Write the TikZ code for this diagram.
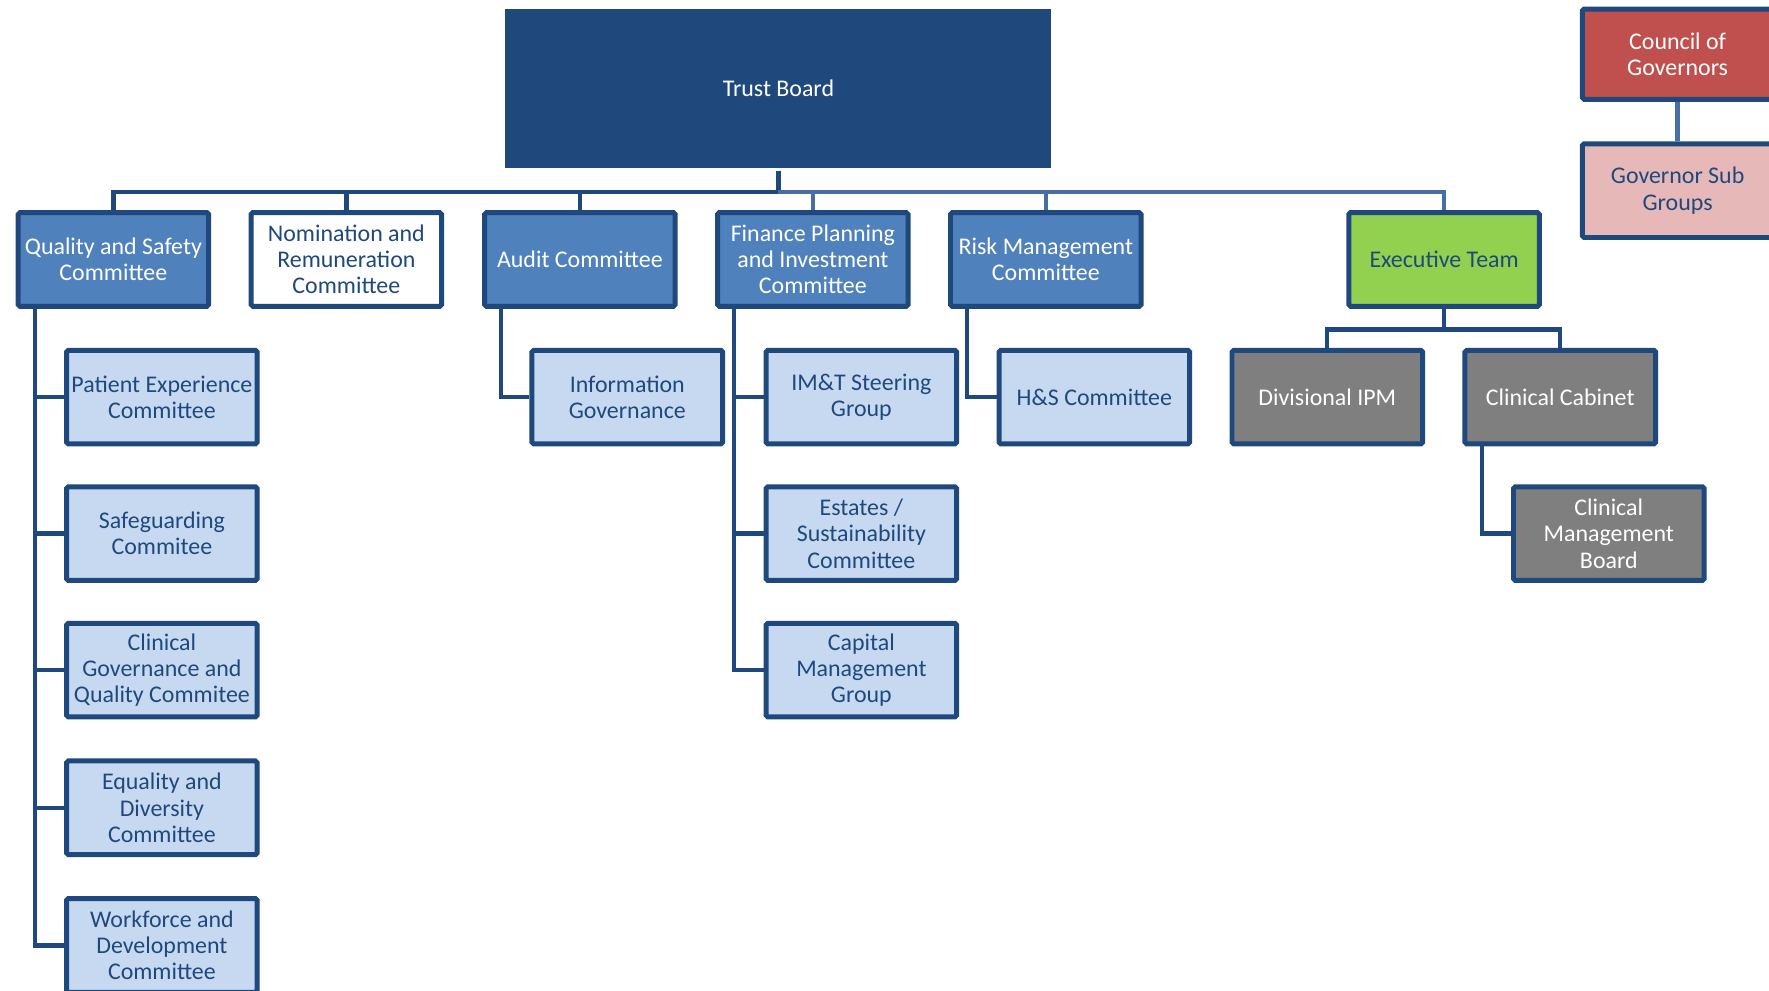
\documentclass[tikz,border=0pt]{standalone}
\usepackage{fontspec}
\setmainfont{Carlito}
\definecolor{dkb}{HTML}{1F497D}
\definecolor{midb}{HTML}{4F81BD}
\definecolor{ltb}{HTML}{C6D9F1}
\definecolor{grn}{HTML}{92D050}
\definecolor{gry}{HTML}{7F7F7F}
\definecolor{rdc}{HTML}{C0504D}
\definecolor{pnk}{HTML}{E6B9B8}
\definecolor{lnk}{HTML}{4670A4}
\begin{document}
\begin{tikzpicture}[x=0.5pt,y=-0.5pt,
  box/.style={draw=dkb, line width=2.2pt, rounded corners=0.8pt,
    minimum width=84.5pt, minimum height=41.5pt, align=center, inner sep=1pt,
    font=\fontsize{10.6}{11.6}\selectfont, text=dkb},
  topbox/.style={box, fill=midb, text=white},
  subbox/.style={box, fill=ltb},
  graybox/.style={box, fill=gry, text=white},
  conn/.style={draw=dkb, line width=1.9pt},
  lconn/.style={draw=lnk, line width=1.9pt}]
\useasboundingbox (0,0) rectangle (1568,878);
\clip (0,0) rectangle (1568,878);

% Trust board
\node[box, draw=none, fill=dkb, text=white, minimum width=242pt, minimum height=70.5pt, rounded corners=0pt] (tb) at (690,78.5) {Trust Board};
\coordinate (bus) at (690,170);

% Council
\node[box, fill=rdc, text=white, minimum height=40pt] (cog) at (1487,48) {Council of\\Governors};
\node[box, fill=pnk] (gsg) at (1487,169) {Governor Sub\\Groups};
\draw[lconn] (cog.south) -- (gsg.north);

% Level 1
\node[topbox] (qs) at (100.5,230) {Quality and Safety\\Committee};
\node[box, fill=white] (nom) at (307,230) {Nomination and\\Remuneration\\Committee};
\node[topbox] (aud) at (514,230) {Audit Committee};
\node[topbox] (fin) at (720.5,230) {Finance Planning\\and Investment\\Committee};
\node[topbox] (risk) at (927,230) {Risk Management\\Committee};
\node[box, fill=grn] (exec) at (1280,230) {Executive Team};

\draw[conn] (tb.south) -- (bus);
\draw[conn] (qs.north) |- (bus);
\draw[conn] (nom.north) -- (nom.north |- bus);
\draw[conn] (aud.north) -- (aud.north |- bus);
\draw[lconn] (fin.north) -- (fin.north |- bus);
\draw[lconn] (risk.north) -- (risk.north |- bus);
\draw[lconn] (exec.north) |- (bus);

% Quality children
\node[subbox] (pe) at (143.5,352) {Patient Experience\\Committee};
\node[subbox] (sg) at (143.5,473) {Safeguarding\\Commitee};
\node[subbox] (cg) at (143.5,594) {Clinical\\Governance and\\Quality Commitee};
\node[subbox] (ed) at (143.5,716) {Equality and\\Diversity\\Committee};
\node[subbox] (wd) at (143.5,838) {Workforce and\\Development\\Committee};
\foreach \c in {pe,sg,cg,ed,wd}
  \draw[conn] ([xshift=8.5pt]qs.south west) |- (\c.west);

% Audit child
\node[subbox] (ig) at (556,352) {Information\\Governance};
\draw[conn] ([xshift=8.5pt]aud.south west) |- (ig.west);

% Finance children
\node[subbox] (imt) at (763.5,352) {IM\&T Steering\\Group};
\node[subbox] (est) at (763.5,473) {Estates /\\Sustainability\\Committee};
\node[subbox] (cap) at (763.5,594) {Capital\\Management\\Group};
\foreach \c in {imt,est,cap}
  \draw[conn] ([xshift=8.5pt]fin.south west) |- (\c.west);

% Risk child
\node[subbox] (hs) at (970,352) {H\&S Committee};
\draw[conn] ([xshift=8.5pt]risk.south west) |- (hs.west);

% Executive children
\node[graybox] (div) at (1176.5,352) {Divisional IPM};
\node[graybox] (cab) at (1383,352) {Clinical Cabinet};
\node[graybox] (cmb) at (1426,473) {Clinical\\Management\\Board};
\coordinate (ebus) at (1280,292);
\draw[conn] (exec.south) -- (ebus);
\draw[conn] (div.north) |- (ebus) -| (cab.north);
\draw[conn] ([xshift=8.5pt]cab.south west) |- (cmb.west);
\end{tikzpicture}
\end{document}
